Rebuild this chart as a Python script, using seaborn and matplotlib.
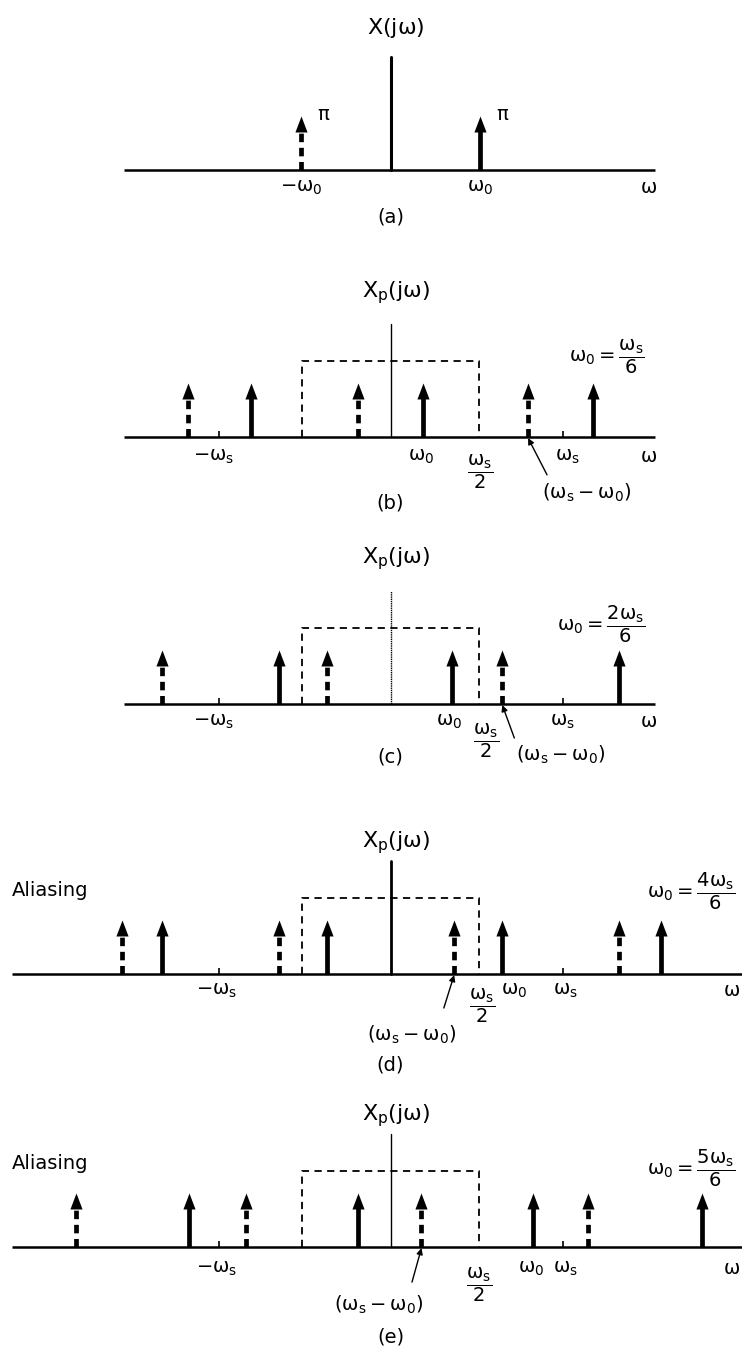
import numpy as np
import pandas as pd
import seaborn as sns
import matplotlib.pyplot as plt

# Impulse locations, in units of omega_s (solid = +w0 copies, dashed = -w0 copies)
panel_names = ['a', 'b', 'c', 'd', 'e']
solid_a = [0.52]
dashed_a = [-0.52]
solid_b = [-0.81, 0.19, 1.18]
dashed_b = [-1.18, -0.19, 0.80]
solid_c = [-0.65, 0.36, 1.33]
dashed_c = [-1.33, -0.37, 0.65]
solid_d = [-1.33, -0.37, 0.65, 1.57]
dashed_d = [-1.56, -0.65, 0.37, 1.33]
solid_e = [-1.17, -0.19, 0.83, 1.81]
dashed_e = [-1.83, -0.84, 0.18, 1.15]
impulse_height = 1.0      # area pi
filter_edge = 0.515       # omega_s / 2 as drawn
filter_height = 1.4
axis_height = 2.1

titles = [r'$X(j\omega)$'] + [r'$X_p(j\omega)$'] * 4
panel_labels = ['(a)', '(b)', '(c)', '(d)', '(e)']
ratio_labels = [None,
                r'$\omega_0 = \dfrac{\omega_s}{6}$',
                r'$\omega_0 = \dfrac{2\omega_s}{6}$',
                r'$\omega_0 = \dfrac{4\omega_s}{6}$',
                r'$\omega_0 = \dfrac{5\omega_s}{6}$']
aliasing = [False, False, False, True, True]

# tick labels under the frequency axis
tick_text = [
    [r'$-\omega_0$', r'$\omega_0$', r'$\omega$'],
    [r'$-\omega_s$', r'$\omega_0$', r'$\omega_s$', r'$\omega$'],
    [r'$-\omega_s$', r'$\omega_0$', r'$\omega_s$', r'$\omega$'],
    [r'$-\omega_s$', r'$\omega_0$', r'$\omega_s$', r'$\omega$'],
    [r'$-\omega_s$', r'$\omega_0$', r'$\omega_s$', r'$\omega$'],
]
tick_pos = [
    [-0.52, 0.52, 1.50],
    [-1.03, 0.18, 1.03, 1.50],
    [-1.03, 0.34, 1.00, 1.50],
    [-1.01, 0.72, 1.02, 1.98],
    [-1.01, 0.82, 1.02, 1.98],
]
half_pos = [None, 0.52, 0.555, 0.53, 0.515]   # where the ws/2 label sits
alias_idx = 2                                  # dashed impulse at (ws - w0)

solids = [solid_a, solid_b, solid_c, solid_d, solid_e]
dashes = [dashed_a, dashed_b, dashed_c, dashed_d, dashed_e]

rows = []
for name, s_list, d_list in zip(panel_names, solids, dashes):
    for w in s_list:
        rows.append({'panel': name, 'omega': w, 'kind': 'solid', 'amp': impulse_height})
    for w in d_list:
        rows.append({'panel': name, 'omega': w, 'kind': 'dashed', 'amp': impulse_height})
impulses = pd.DataFrame(rows)

sns.set_theme(style='white')
plt.rcParams['font.family'] = ['DejaVu Sans']
plt.rcParams['mathtext.fontset'] = 'dejavusans'
plt.rcParams['mathtext.default'] = 'regular'
plt.rcParams['text.color'] = 'black'

W, H = 742, 1352
fig = plt.figure(figsize=(W / 100, H / 100), dpi=100)
px_per_ws = 172.0
x_center = 390.5
unit_px = 54.0
xlim = (-x_center / px_per_ws, (W - x_center) / px_per_ws)

# layout (pixel rows of each baseline) and per-panel tweaks
baselines = [170, 437, 704, 974, 1247]
axis_span = [(-1.55, 1.54)] * 3 + [(-2.20, 2.05)] * 2
vaxis_lw = [2.2, 1.0, 1.0, 2.0, 1.0]
vaxis_ls = ['-', '-', (0, (1, 0.6)), '-', '-']
title_y = [2.63, 2.67, 2.70, 2.44, 2.44]
tick_y = [-0.33, -0.37, -0.33, -0.30, -0.39]
half_y = [None, -0.65, -0.69, -0.59, -0.70]
plabel_y = [-0.87, -1.22, -0.98, -1.69, -1.67]
ratio_xy = [None, (1.04, 1.48), (0.97, 1.48), (1.49, 1.54), (1.49, 1.46)]
ann_text_xy = [None, (1.14, -1.04), (0.99, -0.94), (0.125, -1.13), (-0.067, -1.07)]
ann_from = [None, (0.91, -0.70), (0.72, -0.63), (0.31, -0.63), (0.125, -0.65)]

head = [(-0.38, -1.0), (0.0, 0.0), (0.38, -1.0)]
fs = 14

for i, name in enumerate(panel_names):
    b = baselines[i]
    ax = fig.add_axes([0, 1 - (b + 95) / H, 1, 245 / H])

    # frequency axis and vertical axis
    ax.plot(axis_span[i], [0, 0], color='black', lw=1.8, solid_capstyle='butt')
    ax.plot([0, 0], [0, axis_height], color='black', lw=vaxis_lw[i], ls=vaxis_ls[i])

    sub = impulses[impulses['panel'] == name]
    s_w = sub[sub['kind'] == 'solid']['omega']
    d_w = sub[sub['kind'] == 'dashed']['omega']
    ax.vlines(s_w, 0, impulse_height * 0.8, color='black', lw=3.4)
    ax.vlines(d_w, 0, impulse_height * 0.8, color='black', lw=3.4,
              linestyles=[(0, (1.8, 1.2))])
    sns.scatterplot(data=sub, x='omega', y='amp', marker=head, s=530,
                    color='black', edgecolor='black', linewidth=0,
                    legend=False, ax=ax)
    ax.set_xlim(*xlim)
    ax.set_ylim(-95 / unit_px, 150 / unit_px)
    ax.axis('off')

    ax.text(0.03, title_y[i], titles[i], ha='center', va='center', fontsize=16)
    ax.text(0, plabel_y[i], panel_labels[i], ha='center', va='center', fontsize=fs)

    for lab, xp in zip(tick_text[i], tick_pos[i]):
        ax.text(xp, tick_y[i], lab, ha='center', va='center', fontsize=fs)

    if i == 0:
        ax.text(solid_a[0] + 0.13, impulse_height + 0.03, r'$\pi$', ha='center',
                va='center', fontsize=fs)
        ax.text(dashed_a[0] + 0.13, impulse_height + 0.03, r'$\pi$', ha='center',
                va='center', fontsize=fs)
        continue

    # ideal lowpass filter (dashed box) and ws ticks
    ax.plot([-filter_edge, -filter_edge, filter_edge, filter_edge],
            [0, filter_height, filter_height, 0],
            color='black', lw=1.3, ls=(0, (4, 3)))
    ax.vlines([-1, 1], 0, 0.12, color='black', lw=1.2)

    ax.text(half_pos[i], half_y[i], r'$\dfrac{\omega_s}{2}$', ha='center',
            va='center', fontsize=fs)
    ax.text(ratio_xy[i][0], ratio_xy[i][1], ratio_labels[i], ha='left',
            va='center', fontsize=fs)

    target = dashes[i][alias_idx]
    ax.annotate('', xy=(target, -0.02), xytext=ann_from[i],
                arrowprops=dict(arrowstyle='-|>', color='black', lw=1.0,
                                mutation_scale=9, shrinkA=0, shrinkB=0))
    ax.text(ann_text_xy[i][0], ann_text_xy[i][1], r'$(\omega_s - \omega_0)$',
            ha='center', va='center', fontsize=fs)

    if aliasing[i]:
        ax.text(-2.20, 1.55, 'Aliasing', ha='left', va='center', fontsize=fs)

fig.savefig('out.png', dpi=100, facecolor='white')
